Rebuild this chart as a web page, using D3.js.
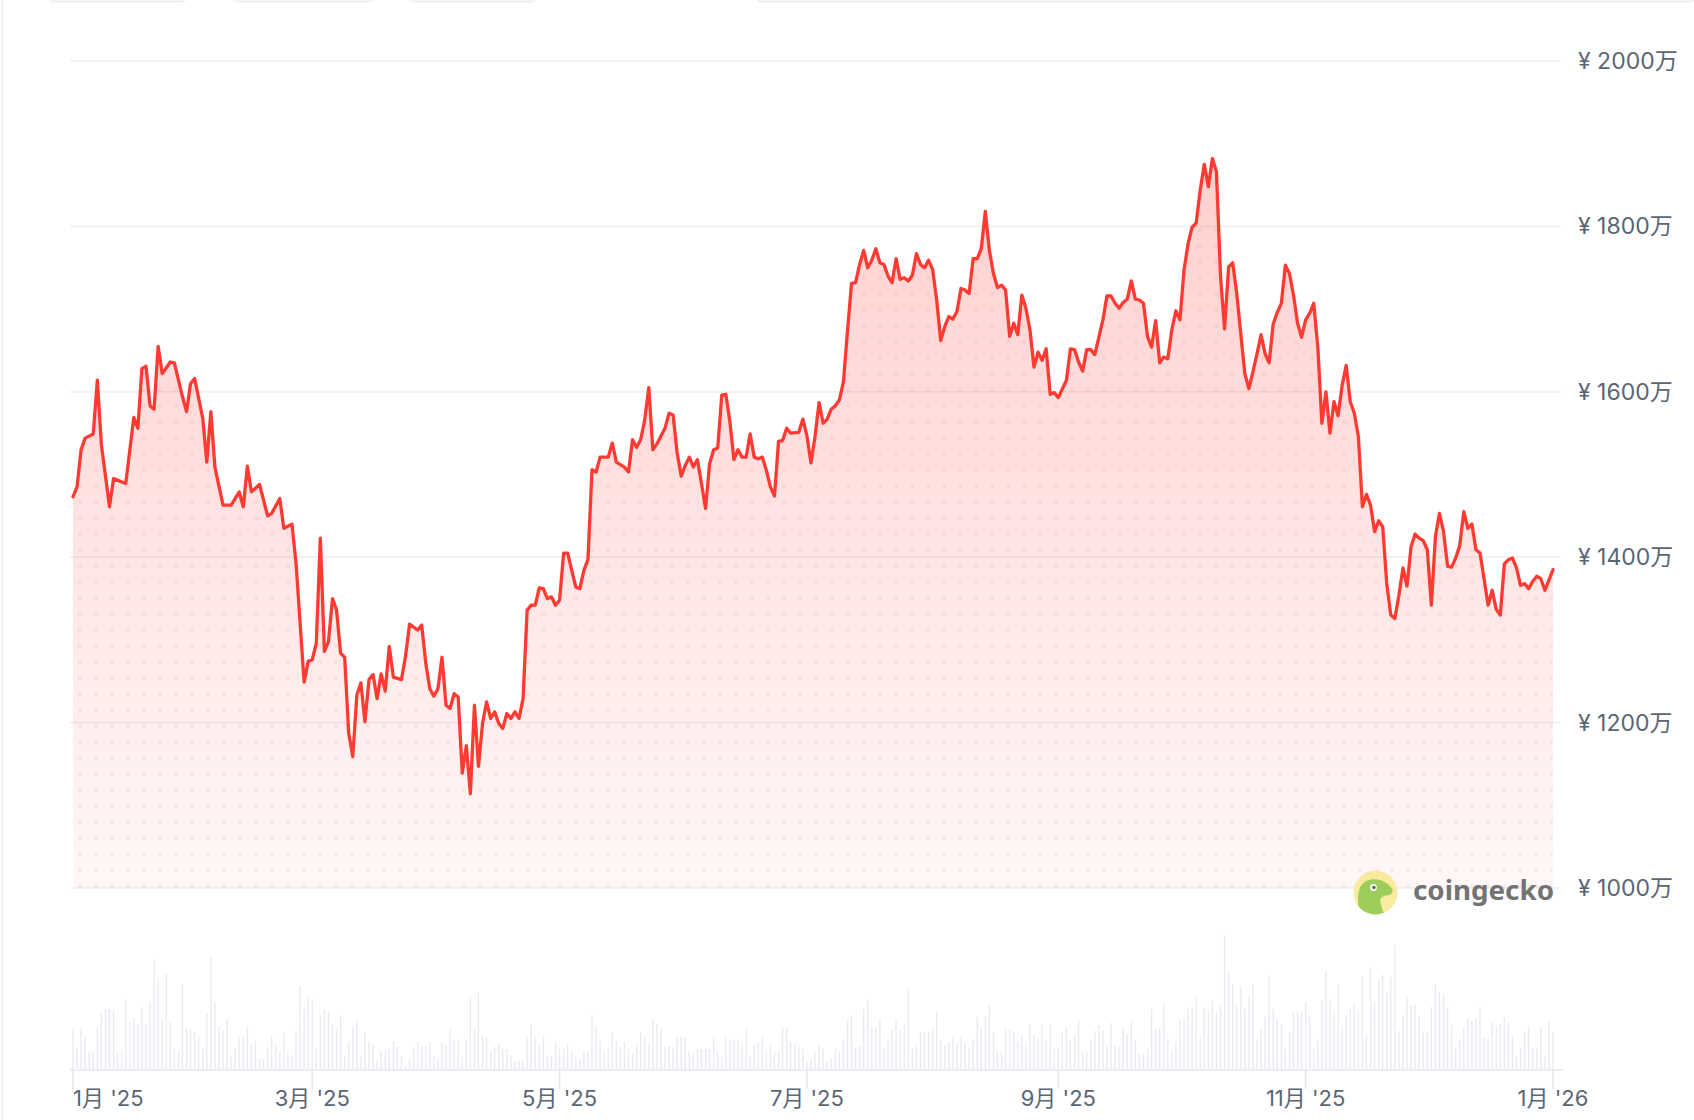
<!DOCTYPE html>
<html>
<head>
<meta charset="utf-8">
<script src="https://cdn.jsdelivr.net/npm/d3@7/dist/d3.min.js"></script>
<style>
  html, body { margin: 0; padding: 0; background: #ffffff; }
  svg { display: block; }
  text { font-family: Inter, "Noto Sans CJK JP", "Noto Sans", sans-serif; }
</style>
</head>
<body>
<svg id="chart" width="1694" height="1120"></svg>
<script>
// ---------------- DATA ----------------
const startDate = "2025-01-01";
// day offset from startDate
const priceDays = [0,1,2,3,5,6,7,9,10,13,15,16,17,18,19,20,21,22,24,25,27,28,29,30,32,33,34,35,37,39,41,42,43,44,46,48,49,51,52,54,55,57,58,59,60,61,62,63,64,65,66,67,68,69,70,71,72,73,74,75,76,77,78,79,81,82,83,85,86,87,88,89,90,91,92,93,94,95,96,97,98,99,100,101,102,103,104,105,106,107,108,109,110,111,112,113,114,115,116,117,118,119,120,121,122,123,124,125,126,127,128,129,130,132,133,134,136,137,138,139,140,141,142,143,144,146,147,148,149,150,151,152,153,154,155,156,157,158,159,160,161,162,163,164,165,166,167,168,169,170,171,172,173,174,175,176,177,179,180,181,182,183,184,185,186,187,188,189,190,191,192,193,194,195,196,197,198,199,200,201,202,203,204,205,206,207,208,209,210,211,212,213,214,215,216,217,218,219,220,221,222,223,224,225,226,227,228,229,230,231,232,233,234,235,236,237,238,239,240,241,242,243,245,246,247,248,249,250,251,252,254,255,256,257,258,259,260,261,262,263,264,265,266,267,268,269,270,271,272,273,274,275,276,277,278,279,280,281,282,283,284,285,286,287,288,289,290,291,292,293,294,295,296,297,298,299,300,301,302,303,304,305,306,307,308,309,310,311,312,313,314,315,316,317,318,319,320,321,322,323,324,325,326,327,328,329,330,331,332,333,334,335,336,337,338,339,340,341,342,343,344,345,346,347,348,349,350,351,352,353,354,355,356,357,358,359,360,361,362,363,365];
// price in 万円
const priceValues = [1473,1485,1530,1544,1549,1614,1536,1461,1495,1489,1569,1556,1628,1631,1583,1579,1655,1622,1636,1635,1594,1576,1610,1616,1568,1515,1576,1509,1463,1463,1479,1461,1510,1479,1488,1450,1453,1471,1435,1440,1393,1249,1274,1276,1296,1423,1286,1298,1350,1336,1284,1279,1187,1159,1233,1248,1201,1252,1258,1229,1259,1238,1292,1255,1252,1280,1319,1312,1318,1272,1241,1232,1241,1279,1221,1217,1235,1231,1139,1172,1114,1221,1147,1199,1225,1205,1213,1199,1193,1211,1205,1213,1205,1229,1336,1342,1342,1363,1362,1350,1352,1342,1348,1405,1405,1384,1364,1362,1384,1397,1506,1503,1521,1521,1538,1515,1509,1503,1542,1533,1542,1566,1605,1530,1537,1556,1574,1572,1526,1498,1511,1521,1509,1518,1489,1459,1513,1530,1532,1596,1597,1564,1518,1530,1521,1521,1549,1521,1519,1521,1505,1485,1474,1540,1541,1556,1550,1551,1567,1547,1514,1546,1587,1562,1567,1579,1583,1590,1612,1673,1731,1732,1754,1771,1750,1759,1773,1756,1754,1740,1732,1761,1736,1738,1734,1741,1767,1754,1750,1759,1748,1711,1662,1679,1691,1688,1697,1725,1723,1719,1761,1761,1773,1818,1771,1743,1726,1729,1723,1667,1683,1669,1717,1701,1675,1630,1648,1638,1652,1597,1599,1593,1614,1652,1651,1636,1625,1651,1651,1645,1687,1716,1716,1707,1701,1708,1712,1734,1712,1711,1707,1667,1654,1686,1635,1642,1640,1675,1698,1687,1747,1779,1799,1804,1844,1875,1848,1882,1866,1740,1676,1751,1756,1719,1670,1622,1604,1624,1646,1669,1646,1635,1682,1696,1707,1753,1743,1717,1683,1666,1687,1695,1707,1654,1562,1600,1550,1588,1571,1608,1632,1588,1574,1546,1461,1476,1463,1431,1444,1437,1368,1330,1326,1354,1387,1365,1413,1428,1423,1420,1409,1342,1425,1453,1431,1389,1388,1399,1414,1455,1435,1440,1409,1405,1374,1342,1360,1337,1330,1392,1397,1399,1387,1366,1368,1362,1371,1377,1374,1360,1385];

// daily volume (relative units), one per day from startDate
const volumeValues = [40,22,41,32,18,17,42,56,60,60,58,15,17,70,47,52,45,62,45,66,110,88,50,95,47,20,18,85,41,40,37,32,20,55,112,67,42,38,50,13,22,32,32,42,25,28,10,10,22,32,24,17,36,15,13,38,83,60,72,70,22,54,60,58,45,40,54,13,27,42,48,13,37,27,25,8,18,18,20,28,22,13,3,10,22,27,22,22,27,13,10,27,25,40,30,30,13,30,72,40,76,34,32,18,22,26,20,20,14,7,8,8,32,44,32,24,32,13,13,27,20,20,24,18,12,10,18,18,54,42,28,17,22,37,28,22,27,20,15,24,37,32,25,50,45,40,22,23,22,32,32,32,17,15,20,20,20,20,32,19,13,32,30,28,30,24,40,13,24,27,32,17,24,17,17,42,42,27,25,22,20,7,10,17,
24,20,7,10,20,17,30,48,54,22,23,60,70,42,42,50,22,30,39,50,39,44,80,20,24,37,37,37,40,57,28,24,27,32,27,32,27,22,30,52,40,52,64,37,18,17,40,39,37,27,34,24,45,34,30,44,30,44,22,22,36,42,30,32,48,17,18,30,38,44,39,23,46,24,22,41,35,47,30,15,15,20,60,40,41,65,30,18,27,50,50,60,62,72,31,62,58,68,57,64,134,97,85,63,82,60,73,85,30,41,52,94,60,50,45,20,38,56,58,57,67,52,22,30,68,98,70,56,85,40,54,60,65,57,92,34,102,67,88,94,76,92,124,38,54,72,63,64,53,36,37,62,85,77,75,62,44,22,30,41,50,48,51,62,31,31,47,43,45,52,47,32,14,21,38,42,21,20,42,13,48,37];

const yTicks = [1000,1200,1400,1600,1800,2000];
const xTickDates = ["2025-01-01","2025-03-01","2025-05-01","2025-07-01","2025-09-01","2025-11-01","2026-01-01"];
const xTickLabels = ["1月 '25","3月 '25","5月 '25","7月 '25","9月 '25","11月 '25","1月 '26"];

// ---------------- SETUP ----------------
const svg = d3.select("#chart");
const parse = d3.timeParse("%Y-%m-%d");
const t0 = parse(startDate);

const price = priceDays.map((d, i) => ({ date: d3.timeDay.offset(t0, d), v: priceValues[i] }));
const volume = volumeValues.map((v, i) => ({ date: d3.timeDay.offset(t0, i), v }));

const x = d3.scaleTime().domain([parse("2025-01-01"), parse("2026-01-01")]).range([73, 1553]);
const y = d3.scaleLinear().domain([1000, 2000]).range([888, 61]);
const yVol = d3.scaleLinear().domain([0, d3.max(volumeValues)]).range([1069, 935]);

const defs = svg.append("defs");
const grad = defs.append("linearGradient").attr("id", "fillGrad")
  .attr("gradientUnits", "userSpaceOnUse").attr("x1", 0).attr("x2", 0)
  .attr("y1", y(d3.max(priceValues))).attr("y2", y(1000));
grad.append("stop").attr("offset", "0%").attr("stop-color", "#ff3a33").attr("stop-opacity", 0.24);
grad.append("stop").attr("offset", "100%").attr("stop-color", "#ff3a33").attr("stop-opacity", 0.04);

const pat = defs.append("pattern").attr("id", "dots").attr("patternUnits", "userSpaceOnUse")
  .attr("x", -8).attr("y", -2).attr("width", 16).attr("height", 16);
pat.append("circle").attr("cx", 8).attr("cy", 8).attr("r", 2.1).attr("fill", "rgba(235,60,60,0.08)");

const clip = defs.append("clipPath").attr("id", "logoClip");
clip.append("circle").attr("cx", 0).attr("cy", 0).attr("r", 22);

// left frame line
svg.append("line").attr("x1", 2.5).attr("x2", 2.5).attr("y1", 0).attr("y2", 1120)
  .attr("stroke", "#eceef2").attr("stroke-width", 1.5);

// top cut-off UI controls
const topBoxes = [[48, 139], [233, 141], [409, 128], [756, 940]];
svg.append("g").selectAll("rect").data(topBoxes).join("rect")
  .attr("x", d => d[0]).attr("y", -20).attr("width", d => d[1]).attr("height", 22)
  .attr("rx", 6).attr("fill", "#f5f6f9").attr("stroke", "#e6e9ef").attr("stroke-width", 1);

// gridlines
svg.append("g").selectAll("line").data(yTicks).join("line")
  .attr("x1", 70).attr("x2", 1561)
  .attr("y1", d => y(d)).attr("y2", d => y(d))
  .attr("stroke", "#eef0f4").attr("stroke-width", 1.7);

// y labels
svg.append("g").selectAll("text").data(yTicks).join("text")
  .attr("x", 1578).attr("y", d => y(d)).attr("dy", "0.35em")
  .attr("font-size", 23).attr("fill", "#5b6573")
  .text(d => "¥ " + d + "万");

// area
const area = d3.area().x(d => x(d.date)).y0(y(1000)).y1(d => y(d.v));
svg.append("path").datum(price).attr("d", area).attr("fill", "url(#fillGrad)");
svg.append("path").datum(price).attr("d", area).attr("fill", "url(#dots)");

// volume bars
svg.append("g").selectAll("line").data(volume).join("line")
  .attr("x1", d => x(d.date)).attr("x2", d => x(d.date))
  .attr("y1", yVol(0)).attr("y2", d => yVol(d.v))
  .attr("stroke", "#e8ebf2").attr("stroke-width", 1.4);

// x baseline
svg.append("line").attr("x1", 70).attr("x2", 1563).attr("y1", 1070).attr("y2", 1070)
  .attr("stroke", "#e6e9ef").attr("stroke-width", 1.5);

// x ticks
const xt = xTickDates.map((d, i) => ({ date: parse(d), label: xTickLabels[i], i }));
svg.append("g").selectAll("line").data(xt).join("line")
  .attr("x1", d => x(d.date)).attr("x2", d => x(d.date))
  .attr("y1", 1070).attr("y2", 1089)
  .attr("stroke", "#e3e6ec").attr("stroke-width", 1.5);
svg.append("g").selectAll("text").data(xt).join("text")
  .attr("x", d => x(d.date)).attr("y", 1098).attr("dy", "0.35em")
  .attr("text-anchor", d => d.i === 0 ? "start" : "middle")
  .attr("font-size", 22).attr("fill", "#5b6573")
  .text(d => d.label);

// price line
const line = d3.line().x(d => x(d.date)).y(d => y(d.v));
svg.append("path").datum(price).attr("d", line)
  .attr("fill", "none").attr("stroke", "#ff3a33").attr("stroke-width", 3.3)
  .attr("stroke-linejoin", "round").attr("stroke-linecap", "round");

// coingecko watermark
const logo = svg.append("g").attr("transform", "translate(1375.5,892.5)").attr("opacity", 0.85);
logo.append("circle").attr("r", 22).attr("fill", "#f8e98f");
const inner = logo.append("g").attr("clip-path", "url(#logoClip)");
inner.append("path")
  .attr("d", "M-14,24 C-18,14 -19,2 -15,-6 C-11,-13 -2,-15 6,-12 C11,-10 15,-7 17,-3 C18,0 15,3 10,3 C6,4 4,6 5,10 C6,15 8,20 10,24 Z")
  .attr("fill", "#8cc63f");
inner.append("circle").attr("cx", -2).attr("cy", -5).attr("r", 3.4).attr("fill", "#ffffff");
inner.append("circle").attr("cx", -1.6).attr("cy", -5).attr("r", 1.8).attr("fill", "#4a4a4a");
svg.append("text").attr("x", 1413).attr("y", 900)
  .attr("font-size", 26).attr("font-weight", 700).attr("fill", "#737373")
  .attr("style", "font-family: 'Noto Sans', 'Open Sans', sans-serif")
  .attr("textLength", 141).attr("lengthAdjust", "spacingAndGlyphs")
  .text("coingecko");
</script>
</body>
</html>
